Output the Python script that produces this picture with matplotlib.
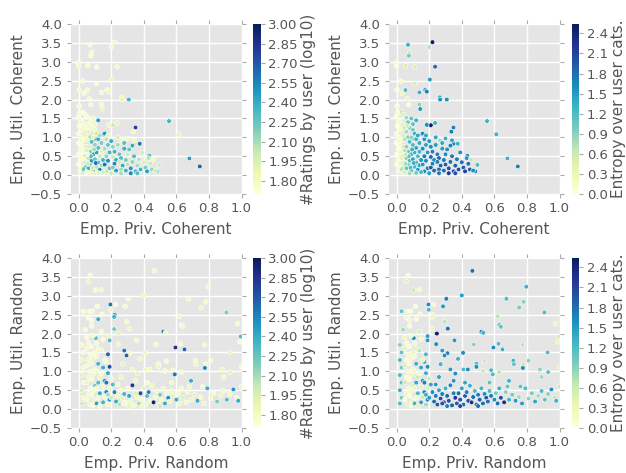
import numpy as np
import matplotlib
matplotlib.use("Agg")
import matplotlib.pyplot as plt

# ---------------- data: coherent (top row) ----------------
coh_priv = [
    0.07, 0.22, 0.20, 0.08, 0.075, 0.00, 0.00, 0.056, 0.11, 0.236,
    0.204, 0.026, 0.11, 0.002, 0.054, 0.033, 0.14, 0.175, 0.185, 0.066,
    0.265, 0.267, 0.308, 0.003, 0.075, 0.14, 0.145, 0.027, 0.555, 0.612,
    0.68, 0.744, 0.349, 0.336, 0.236, 0.21, 0.185, 0.434, 0.457, 0.496,
    0.483, 0.40, 0.375, 0.349, 0.34, 0.30, 0.267, 0.12, 0.10, 0.155,
    0.00, 0.01, 0.005, 0.02, 0.00, 0.015, 0.03, 0.00, 0.02, 0.01,
    0.03, 0.00, 0.02, 0.01, 0.035, 0.00, 0.02, 0.01, 0.03, 0.04,
    0.035, 0.04, 0.045, 0.04, 0.045, 0.025, 0.015, 0.005, 0.02, 0.03,
    0.06, 0.07, 0.08, 0.09, 0.06, 0.07, 0.08, 0.06, 0.07, 0.09,
    0.06, 0.08, 0.07, 0.06, 0.09, 0.10, 0.11, 0.12, 0.10, 0.12,
    0.11, 0.13, 0.10, 0.12, 0.11, 0.13, 0.14, 0.14, 0.15, 0.14,
    0.05, 0.05, 0.055, 0.065, 0.10, 0.13, 0.075, 0.085, 0.095, 0.105,
    0.16, 0.17, 0.18, 0.16, 0.19, 0.17, 0.18, 0.16, 0.19, 0.17,
    0.20, 0.21, 0.22, 0.21, 0.23, 0.22, 0.21, 0.23, 0.24, 0.25,
    0.26, 0.25, 0.27, 0.26, 0.28, 0.29, 0.30, 0.29, 0.30, 0.28,
    0.32, 0.33, 0.34, 0.35, 0.36, 0.37, 0.38, 0.39, 0.41, 0.42,
    0.44, 0.45, 0.47, 0.31, 0.33, 0.32, 0.36, 0.18, 0.24, 0.43,
    0.05, 0.08, 0.12, 0.15, 0.03, 0.055, 0.045, 0.09, 0.20, 0.26,
]
coh_util = [
    3.45, 3.52, 3.39, 3.25, 3.16, 2.97, 2.88, 2.90, 2.86, 2.87,
    2.53, 2.49, 2.42, 2.26, 2.25, 2.17, 2.19, 2.26, 2.21, 2.02,
    2.06, 2.00, 2.00, 1.83, 1.86, 1.87, 1.75, 1.67, 1.43, 1.08,
    0.44, 0.23, 1.26, 1.15, 1.38, 1.32, 1.33, 0.51, 0.41, 0.27,
    0.10, 0.34, 0.83, 0.83, 0.92, 0.97, 0.92, 1.45, 0.97, 1.08,
    1.55, 1.45, 1.30, 1.20, 1.10, 1.00, 0.92, 0.85, 0.78, 0.70,
    0.62, 0.55, 0.48, 0.40, 0.35, 0.28, 0.20, 0.13, 0.10, 1.60,
    1.35, 1.05, 0.75, 0.50, 0.22, 0.60, 0.90, 1.65, 1.40, 0.16,
    1.52, 1.40, 1.25, 1.50, 1.15, 1.00, 0.88, 0.75, 0.62, 0.55,
    0.45, 0.38, 0.28, 0.18, 0.12, 1.20, 1.10, 0.95, 0.80, 0.72,
    0.60, 0.50, 0.42, 0.33, 0.22, 0.14, 0.85, 0.62, 0.40, 0.26,
    0.95, 0.65, 0.30, 1.30, 1.35, 1.05, 0.50, 0.20, 0.68, 0.32,
    1.10, 0.95, 0.80, 0.70, 0.60, 0.50, 0.38, 0.28, 0.18, 0.10,
    0.90, 0.75, 0.62, 0.48, 0.40, 0.30, 0.20, 0.12, 1.00, 0.55,
    0.45, 0.35, 0.25, 0.15, 0.70, 0.40, 0.28, 0.12, 0.55, 0.85,
    0.18, 0.35, 0.50, 0.10, 0.25, 0.42, 0.15, 0.60, 0.20, 0.10,
    0.30, 0.15, 0.12, 0.68, 0.78, 0.05, 0.05, 1.05, 0.80, 0.45,
    0.08, 0.05, 0.06, 0.08, 0.45, 0.55, 1.25, 1.00, 0.05, 0.05,
]
coh_lograt = [
    1.75, 1.80, 1.78, 1.80, 1.76, 1.75, 1.80, 1.78, 1.75, 1.82,
    1.85, 1.76, 1.75, 1.78, 1.80, 1.77, 1.78, 1.80, 1.85, 1.76,
    1.85, 1.90, 2.35, 1.75, 1.76, 1.80, 1.85, 1.76, 2.35, 1.90,
    2.45, 2.65, 2.80, 1.85, 1.90, 2.00, 1.85, 2.35, 1.85, 2.00,
    2.15, 1.95, 2.60, 2.00, 1.85, 1.80, 1.85, 2.45, 2.75, 2.55,
    1.75, 1.78, 1.72, 1.80, 1.74, 1.76, 1.85, 1.72, 1.78, 1.80,
    1.90, 1.74, 1.82, 1.76, 1.95, 1.72, 1.80, 1.78, 2.05, 1.78,
    1.80, 1.88, 1.92, 2.20, 2.30, 1.76, 1.78, 1.76, 1.80, 2.25,
    1.78, 1.80, 1.85, 1.82, 1.90, 2.10, 2.30, 1.95, 2.20, 2.40,
    2.05, 2.50, 2.20, 2.35, 2.10, 1.85, 2.00, 2.40, 2.15, 2.30,
    2.45, 2.00, 2.25, 2.35, 2.05, 2.55, 2.20, 1.90, 2.35, 2.10,
    1.85, 1.95, 2.00, 1.80, 1.85, 2.10, 2.30, 2.00, 2.10, 2.60,
    2.50, 2.05, 2.25, 2.10, 2.35, 2.15, 2.50, 2.60, 2.30, 2.05,
    2.40, 2.15, 2.35, 2.00, 2.40, 2.55, 2.20, 2.45, 1.95, 2.25,
    2.30, 2.00, 2.40, 2.10, 2.40, 2.20, 2.05, 2.35, 2.00, 2.30,
    2.50, 2.15, 2.30, 2.40, 2.10, 2.05, 2.35, 2.00, 2.20, 2.45,
    2.00, 2.15, 2.00, 2.25, 2.40, 2.55, 2.30, 1.90, 2.10, 2.05,
    1.80, 1.85, 1.90, 1.95, 1.78, 1.82, 1.78, 1.90, 2.00, 2.10,
]
coh_entropy = [
    1.3, 2.5, 0.7, 0.6, 1.0, 0.1, 0.1, 0.5, 0.5, 1.8,
    1.5, 0.2, 0.5, 0.1, 1.2, 0.3, 1.3, 1.3, 1.7, 0.3,
    1.3, 1.6, 1.6, 0.1, 0.1, 0.9, 1.5, 0.6, 1.3, 1.3,
    1.3, 1.7, 1.7, 1.7, 1.3, 2.5, 1.6, 1.7, 0.7, 1.2,
    1.7, 1.8, 1.3, 1.6, 1.4, 1.3, 0.8, 1.3, 1.4, 1.5,
    0.05, 0.1, 0.0, 0.2, 0.1, 0.15, 0.3, 0.05, 0.2, 0.1,
    0.35, 0.0, 0.25, 0.1, 0.4, 0.05, 0.2, 0.15, 0.3, 0.45,
    0.5, 0.5, 0.6, 0.7, 0.6, 0.3, 0.2, 0.1, 0.25, 0.7,
    0.8, 1.0, 0.9, 1.1, 0.8, 1.0, 1.2, 0.9, 1.1, 1.3,
    0.9, 1.2, 1.0, 1.1, 1.2, 1.0, 1.3, 1.3, 1.2, 1.4,
    1.3, 1.2, 1.4, 1.3, 1.2, 1.5, 1.4, 1.3, 1.5, 1.4,
    0.7, 0.7, 0.8, 0.6, 1.1, 1.4, 1.1, 1.2, 1.3, 1.3,
    1.6, 1.5, 1.4, 1.6, 1.5, 1.7, 1.6, 1.5, 1.7, 1.6,
    1.5, 1.6, 1.7, 1.8, 1.6, 1.7, 1.9, 1.8, 1.4, 1.7,
    1.8, 1.7, 1.9, 1.8, 1.5, 1.7, 1.9, 1.8, 1.6, 1.4,
    2.0, 1.8, 1.7, 2.1, 1.9, 1.7, 2.0, 1.6, 1.9, 2.1,
    1.8, 1.9, 1.6, 1.6, 1.7, 2.2, 2.0, 1.4, 1.5, 1.5,
    0.5, 0.8, 1.0, 1.2, 0.4, 0.6, 0.5, 0.9, 1.5, 1.7,
]

# ---------------- data: random (bottom row) ----------------
rnd_priv = [
    0.465, 0.071, 0.06, 0.796, 0.138, 0.103, 0.40, 0.305, 0.674, 0.78,
    0.752, 0.195, 0.226, 0.285, 0.197, 0.114, 0.030, 0.066, 0.086, 0.907,
    0.144, 0.222, 0.06, 0.12, 0.08, 0.218, 0.62, 0.975, 0.63, 0.64,
    0.295, 0.314, 0.247, 0.218, 0.52, 0.532, 0.355, 0.19, 0.19, 0.105,
    0.995, 0.625, 0.474, 0.243, 0.594, 0.65, 0.773, 0.927, 0.99, 0.408,
    0.312, 0.294, 0.28, 0.377, 0.27, 0.49, 0.54, 0.717, 0.81, 0.78,
    0.72, 0.437, 0.53, 0.58, 0.59, 0.63, 0.775, 0.88, 0.93, 0.89,
    0.33, 0.36, 0.49, 0.41, 1.00, 0.18, 0.19, 0.17, 0.69, 0.68,
    0.02, 0.03, 0.02, 0.03, 0.02, 0.03, 0.02, 0.03, 0.02, 0.04,
    0.05, 0.06, 0.05, 0.07, 0.06, 0.05, 0.07, 0.06, 0.05, 0.07,
    0.06, 0.05, 0.07, 0.08, 0.09, 0.08, 0.10, 0.09, 0.08, 0.10,
    0.09, 0.08, 0.10, 0.09, 0.08, 0.10, 0.09, 0.11, 0.12, 0.11,
    0.12, 0.11, 0.13, 0.12, 0.11, 0.13, 0.12, 0.11, 0.13, 0.14,
    0.15, 0.14, 0.16, 0.15, 0.14, 0.16, 0.15, 0.17, 0.16, 0.15,
    0.18, 0.17, 0.19, 0.18, 0.19, 0.18, 0.20, 0.21, 0.22, 0.20,
    0.23, 0.24, 0.25, 0.26, 0.27, 0.28, 0.29, 0.30, 0.31, 0.32,
    0.33, 0.34, 0.35, 0.36, 0.37, 0.38, 0.39, 0.40, 0.41, 0.42,
    0.43, 0.44, 0.45, 0.46, 0.47, 0.48, 0.49, 0.50, 0.51, 0.52,
    0.53, 0.54, 0.55, 0.56, 0.57, 0.58, 0.60, 0.61, 0.62, 0.64,
    0.66, 0.67, 0.69, 0.71, 0.73, 0.75, 0.77, 0.79, 0.81, 0.83,
    0.85, 0.87, 0.89, 0.91, 0.93, 0.95, 0.97, 0.98, 1.00, 0.76,
    0.24, 0.26, 0.28, 0.31, 0.35, 0.39, 0.42, 0.50, 0.57, 0.63,
]
rnd_util = [
    3.66, 3.54, 3.38, 3.24, 3.16, 3.15, 3.01, 2.92, 2.92, 2.84,
    2.69, 2.77, 2.77, 2.72, 2.63, 2.72, 2.59, 2.59, 2.59, 2.56,
    2.51, 2.50, 2.42, 2.38, 2.35, 2.44, 2.46, 2.26, 2.23, 2.18,
    2.31, 2.13, 2.00, 2.12, 2.05, 2.02, 1.82, 1.93, 1.82, 1.88,
    1.92, 1.73, 1.71, 1.72, 1.63, 1.58, 1.70, 1.50, 1.78, 1.49,
    1.48, 1.42, 1.55, 1.33, 1.19, 1.20, 1.27, 1.28, 1.28, 1.19,
    1.19, 1.05, 1.01, 1.03, 0.92, 0.98, 1.09, 1.05, 0.98, 0.85,
    1.05, 0.94, 1.12, 1.05, 1.12, 1.45, 1.12, 1.25, 0.75, 0.60,
    1.70, 1.50, 1.30, 1.10, 0.90, 0.70, 0.50, 0.30, 0.15, 2.10,
    1.90, 1.75, 1.60, 1.45, 1.30, 1.15, 1.00, 0.85, 0.70, 0.55,
    0.40, 0.25, 0.12, 2.20, 1.95, 1.65, 1.50, 1.35, 1.20, 1.05,
    0.92, 0.78, 0.62, 0.48, 0.35, 0.22, 0.10, 1.75, 1.60, 1.40,
    1.20, 1.00, 0.85, 0.70, 0.55, 0.42, 0.30, 0.15, 0.08, 2.05,
    1.85, 1.55, 1.30, 1.10, 0.95, 0.75, 0.60, 0.45, 0.32, 0.18,
    0.95, 0.70, 0.55, 0.38, 0.25, 0.12, 0.80, 0.65, 0.45, 0.30,
    0.20, 0.35, 0.12, 0.50, 0.28, 0.40, 0.18, 0.55, 0.35, 0.22,
    0.63, 0.10, 0.42, 0.30, 0.15, 0.42, 0.25, 0.55, 0.12, 0.35,
    0.45, 0.22, 0.62, 0.18, 0.32, 0.48, 0.12, 0.38, 0.25, 0.55,
    0.15, 0.40, 0.30, 0.20, 0.48, 0.35, 0.25, 0.42, 0.15, 0.30,
    0.18, 0.45, 0.25, 0.38, 0.22, 0.32, 0.15, 0.55, 0.28, 0.42,
    0.20, 0.35, 0.48, 0.25, 0.40, 0.52, 0.30, 0.22, 0.60, 0.60,
    0.65, 0.85, 0.15, 0.08, 0.75, 0.08, 0.70, 0.08, 0.70, 0.55,
]
rnd_lograt = [
    1.80, 1.78, 1.85, 1.80, 1.82, 1.78, 1.85, 1.80, 1.82, 1.80,
    1.85, 2.60, 1.75, 1.80, 1.85, 1.76, 1.78, 1.75, 1.78, 2.20,
    1.76, 2.40, 1.78, 2.40, 1.76, 2.35, 1.80, 1.78, 1.80, 1.82,
    1.80, 1.85, 1.90, 2.20, 2.60, 1.85, 1.80, 1.85, 2.30, 2.30,
    2.30, 1.80, 1.80, 1.85, 2.85, 2.65, 1.80, 1.90, 1.78, 1.85,
    1.80, 2.65, 2.60, 1.85, 1.90, 1.80, 1.78, 1.80, 1.78, 1.80,
    1.85, 1.80, 1.78, 1.80, 2.60, 1.80, 2.55, 1.85, 1.90, 1.80,
    1.85, 1.90, 1.85, 1.80, 1.78, 2.65, 2.75, 1.85, 2.40, 1.85,
    1.80, 1.78, 1.85, 1.80, 1.90, 1.82, 1.95, 1.85, 2.00, 1.78,
    1.75, 1.78, 1.80, 1.76, 1.82, 1.78, 1.75, 1.80, 1.85, 1.78,
    1.80, 1.76, 1.82, 1.75, 1.80, 1.78, 1.76, 1.85, 1.80, 1.78,
    1.82, 1.76, 2.20, 1.80, 1.78, 1.85, 1.76, 1.80, 1.82, 1.78,
    2.35, 1.80, 1.85, 2.30, 1.78, 2.40, 1.80, 2.45, 1.78, 1.80,
    1.76, 1.85, 1.80, 2.40, 1.78, 2.45, 1.85, 2.55, 1.80, 2.35,
    2.40, 2.60, 1.85, 2.10, 2.50, 1.82, 1.80, 2.30, 2.55, 2.00,
    2.40, 1.85, 2.05, 1.80, 1.90, 2.35, 1.85, 1.80, 2.40, 1.85,
    2.85, 1.80, 1.95, 1.85, 2.10, 2.75, 1.80, 1.90, 1.85, 2.30,
    2.55, 1.80, 1.85, 2.95, 1.82, 1.80, 1.90, 2.20, 1.80, 1.85,
    2.40, 1.80, 2.50, 1.85, 1.80, 1.90, 2.40, 1.80, 1.85, 1.95,
    1.82, 1.80, 1.85, 1.90, 2.40, 1.80, 1.85, 2.40, 1.82, 1.80,
    2.20, 1.85, 1.80, 2.30, 1.82, 2.50, 1.80, 2.40, 1.85, 1.80,
    1.82, 1.85, 1.80, 1.90, 1.85, 1.82, 1.80, 2.00, 1.82, 1.80,
]
rnd_entropy = [
    1.8, 0.1, 0.4, 1.3, 0.2, 0.6, 1.5, 1.7, 1.2, 0.9,
    1.0, 1.6, 0.2, 1.5, 1.2, 0.1, 1.1, 0.2, 0.1, 1.2,
    0.2, 0.3, 0.2, 0.1, 0.2, 0.3, 0.7, 0.3, 1.1, 1.1,
    0.7, 1.8, 2.5, 0.3, 1.6, 1.3, 1.5, 1.5, 1.5, 1.6,
    0.5, 1.2, 0.9, 1.6, 1.6, 1.3, 0.7, 1.2, 0.3, 1.6,
    1.7, 1.6, 1.5, 1.3, 1.3, 1.2, 0.6, 1.3, 0.9, 0.6,
    1.1, 1.6, 0.6, 1.2, 1.2, 0.7, 1.6, 0.9, 1.1, 0.8,
    1.5, 1.6, 1.6, 1.2, 0.4, 1.2, 1.6, 1.4, 1.3, 1.1,
    0.9, 1.1, 1.2, 1.0, 1.2, 1.1, 1.3, 1.0, 1.2, 0.8,
    0.3, 0.1, 0.4, 0.2, 0.1, 0.5, 0.2, 0.1, 0.6, 0.2,
    0.3, 0.1, 0.4, 0.1, 0.2, 0.1, 0.3, 0.2, 0.1, 0.2,
    0.3, 0.1, 0.5, 0.2, 0.1, 0.3, 0.2, 0.2, 0.4, 0.1,
    1.3, 0.2, 0.6, 1.4, 0.3, 1.2, 0.2, 1.3, 0.4, 0.5,
    0.2, 0.7, 0.3, 1.4, 0.2, 1.5, 0.4, 1.6, 0.6, 1.4,
    1.3, 1.7, 0.5, 1.3, 1.7, 0.8, 0.6, 1.4, 1.6, 1.5,
    1.8, 1.7, 1.9, 1.4, 2.0, 1.7, 2.1, 1.3, 1.8, 2.0,
    1.6, 1.9, 1.7, 2.2, 1.9, 1.8, 2.0, 1.4, 1.8, 1.9,
    1.7, 2.0, 1.3, 2.3, 1.8, 1.2, 1.9, 1.7, 1.9, 1.3,
    1.8, 1.6, 1.9, 1.8, 1.2, 1.7, 1.6, 1.0, 1.8, 2.0,
    2.3, 0.9, 1.3, 1.0, 1.5, 0.8, 1.5, 1.2, 0.9, 1.0,
    1.4, 0.8, 1.2, 1.1, 0.9, 1.6, 0.7, 1.3, 0.6, 1.1,
    1.5, 1.4, 2.0, 1.7, 1.5, 2.1, 1.4, 1.8, 1.1, 1.3,
]

rat_ticks = [1.80, 1.95, 2.10, 2.25, 2.40, 2.55, 2.70, 2.85, 3.00]
ent_ticks = [0.0, 0.3, 0.6, 0.9, 1.2, 1.5, 1.8, 2.1, 2.4]
x_ticks = [0.0, 0.2, 0.4, 0.6, 0.8, 1.0]
y_ticks = [-0.5, 0.0, 0.5, 1.0, 1.5, 2.0, 2.5, 3.0, 3.5, 4.0]

# ---------------- style ----------------
GREY = "#555555"
plt.rcParams.update({
    "font.family": "DejaVu Sans",
    "axes.facecolor": "#E5E5E5",
    "axes.edgecolor": "white",
    "axes.grid": True,
    "grid.color": "white",
    "grid.linewidth": 1.0,
    "axes.axisbelow": True,
    "xtick.color": GREY,
    "ytick.color": GREY,
    "xtick.direction": "out",
    "ytick.direction": "out",
    "xtick.top": True,
    "ytick.right": True,
    "axes.labelcolor": GREY,
})

fig = plt.figure(figsize=(6.26, 4.73), dpi=100)

W, H = 626.0, 473.0
panels = [
    (70.5, 24.0, 253.0, coh_priv, coh_util, coh_lograt, np.log10(50), 3.0, rat_ticks,
     "Emp. Priv. Coherent", "Emp. Util. Coherent", "#Ratings by user (log10)"),
    (388.5, 24.0, 571.5, coh_priv, coh_util, coh_entropy, 0.0, 2.54, ent_ticks,
     "Emp. Priv. Coherent", "Emp. Util. Coherent", "Entropy over user cats."),
    (70.5, 258.0, 253.0, rnd_priv, rnd_util, rnd_lograt, np.log10(50), 3.0, rat_ticks,
     "Emp. Priv. Random", "Emp. Util. Random", "#Ratings by user (log10)"),
    (388.5, 258.0, 571.5, rnd_priv, rnd_util, rnd_entropy, 0.0, 2.54, ent_ticks,
     "Emp. Priv. Random", "Emp. Util. Random", "Entropy over user cats."),
]
axw, axh = 171.0, 170.0
cbw = 7.5
TICK_FS = 9.5
LAB_FS = 11

for (axl, axt, cbl, xs, ys, cs, vmin, vmax, cticks, xl, yl, cl) in panels:
    ax = fig.add_axes([axl / W, 1 - (axt + axh) / H, axw / W, axh / H])
    sc = ax.scatter(xs, ys, c=cs, cmap="YlGnBu", vmin=vmin, vmax=vmax,
                    s=11, edgecolors="white", linewidths=0.4, zorder=3)
    ax.set_xlim(-0.05, 1.0)
    ax.set_ylim(-0.5, 4.0)
    ax.set_xticks(x_ticks)
    ax.set_yticks(y_ticks)
    ax.set_xticklabels([f"{v:.1f}" for v in x_ticks])
    ax.set_yticklabels([f"{v:.1f}".replace("-", "\u2212") for v in y_ticks])
    ax.tick_params(labelsize=TICK_FS, length=3, width=0.8, pad=3, color="#AAAAAA")
    ax.set_xlabel(xl, fontsize=LAB_FS, color=GREY, labelpad=5)
    ax.set_ylabel(yl, fontsize=LAB_FS, color=GREY, labelpad=3)
    for s in ax.spines.values():
        s.set_visible(False)

    cax = fig.add_axes([cbl / W, 1 - (axt + axh) / H, cbw / W, axh / H])
    cb = fig.colorbar(sc, cax=cax)
    cb.set_ticks(cticks)
    cb.set_ticklabels([f"{v:.2f}" if vmax > 2.9 else f"{v:.1f}" for v in cticks])
    cb.outline.set_visible(False)
    cax.tick_params(labelsize=TICK_FS, length=3, width=0.8, pad=2.5, color="#AAAAAA",
                    right=True, left=False, direction="out")
    cax.grid(False)
    cb.set_label(cl, fontsize=LAB_FS, color=GREY, labelpad=2)

fig.savefig("out.png", dpi=100)
